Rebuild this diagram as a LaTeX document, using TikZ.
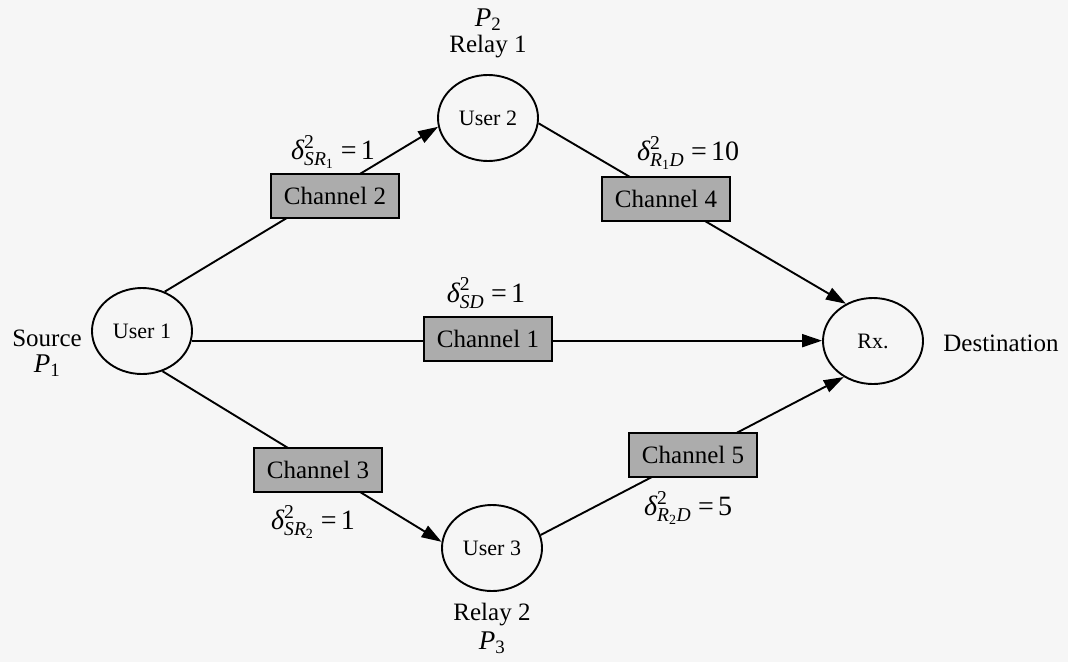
\documentclass[tikz,border=0pt]{standalone}
\usepackage{amsmath}
\usepackage{fontspec}
\setmainfont{Liberation Serif}
\usetikzlibrary{shapes.geometric,arrows.meta}
\definecolor{boxgray}{HTML}{ACACAC}
\definecolor{paper}{HTML}{F6F6F6}
\newcommand\vark[2]{$\textit{δ}^{\text{2}}_{#1}\;\text{=}\,\text{#2}$}
\begin{document}
\begin{tikzpicture}[x=1pt,y=-1pt,
  every node/.style={font=\fontsize{25}{30}\selectfont},
  user/.style={ellipse,draw,line width=1.9pt,minimum width=100pt,minimum height=86pt,inner sep=0pt,
    font=\fontsize{22}{26}\selectfont},
  chan/.style={draw,line width=2pt,fill=boxgray,minimum width=128pt,minimum height=44pt,inner sep=0pt},
  arr/.style={line width=1.9pt,-{Triangle[length=20pt,width=13pt]}},
  lbl/.style={inner sep=0pt,font=\fontsize{28}{32}\selectfont}]
\fill[paper] (0,0) rectangle (1068,662);
\useasboundingbox (0,0) rectangle (1068,662);

% terminals
\node[user] (u1) at (142,331) {User 1};
\node[user] (u2) at (488,118) {User 2};
\node[user] (u3) at (492,548) {User 3};
\node[user] (rx) at (873,341) {Rx.};

% links between terminals
\draw[arr] (u1.60) -- (u2.190);
\draw[arr] (u2.-6) -- (rx.126);
\draw[arr] (u1.-11) -- (u1.-11 -| rx.west);
\draw[arr] (u1.-63) -- (u3.173);
\draw[arr] (u3.15) -- (rx.231);

% channel blocks drawn over the links
\node[chan] (c2) at (335,196) {Channel 2};
\node[chan] (c4) at (666,199) {Channel 4};
\node[chan] (c1) at (488,339) {Channel 1};
\node[chan] (c3) at (318,470) {Channel 3};
\node[chan] (c5) at (693,455) {Channel 5};

% channel variances
\node[lbl] (v2) at (333,152) {\vark{\textit{SR}_{\text{1}}}{1}};
\node[lbl] (v4) at (688,153) {\vark{\textit{R}_{\text{1}}\textit{D}}{10}};
\node[lbl] (v1) at (486,293) {\vark{\textit{SD}}{1}};
\node[lbl] (v3) at (313,522) {\vark{\textit{SR}_{\text{2}}}{1}};
\node[lbl] (v5) at (688,508) {\vark{\textit{R}_{\text{2}}\textit{D}}{5}};

% roles and powers
\node (p2) at (488,20) {\fontsize{27}{30}\selectfont$\textit{P}_{\text{2}}$};
\node (r1) at (488,47) {Relay 1};
\node (src) at (47,338) {Source};
\node (p1) at (47,366) {\fontsize{27}{30}\selectfont$\textit{P}_{\text{1}}$};
\node (dst) at (1001,343) {Destination};
\node (r2) at (492,615) {Relay 2};
\node (p3) at (492,643) {\fontsize{27}{30}\selectfont$\textit{P}_{\text{3}}$};
\end{tikzpicture}
\end{document}
